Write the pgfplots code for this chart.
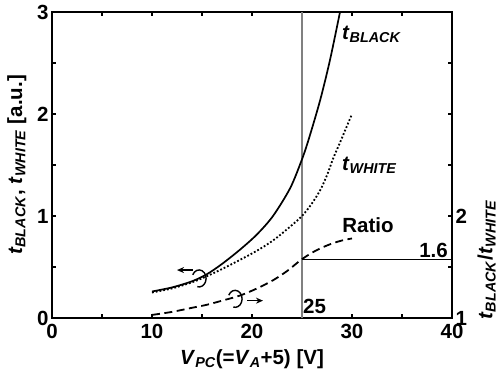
\documentclass[border=0pt]{standalone}
\usepackage{fontspec}
\setmainfont{Liberation Sans}
\usepackage{pgfplots}
\pgfplotsset{compat=1.18}
\usetikzlibrary{arrows.meta}
\newcommand{\tsub}[1]{\textit{t}\textsubscript{\textit{#1}}}
\newcommand{\bigf}{\bfseries\fontsize{20.5}{22}\selectfont}
\begin{document}
\bfseries
\begin{tikzpicture}[x=1pt,y=1pt]
\useasboundingbox (-52,-55) rectangle (446,318);
\begin{axis}[
  at={(0,0)}, anchor=south west,
  scale only axis, width=400pt, height=306pt,
  xmin=0, xmax=40, ymin=0, ymax=3,
  xtick={0,10,20,30,40}, minor xtick={5,15,25,35},
  ytick={0,1,2,3}, minor ytick={0.5,1.5,2.5},
  tick align=inside, tick pos=both,
  major tick length=4pt, minor tick length=4pt,
  every tick/.style={black, line width=1.2pt},
  axis line style={line width=1.8pt},
  /pgf/number format/assume math mode=true,
  tick label style={font=\bigf},
  label style={font=\bigf},
  xlabel={\textit{V}\textsubscript{\textit{PC}}(=\textit{V}\textsubscript{\textit{A}}+5) [V]},
  ylabel={\tsub{BLACK}, \tsub{WHITE} [a.u.]},
  xlabel style={at={(rel axis cs:0.5,0)}, anchor=north, yshift=-28pt},
  ylabel style={at={(rel axis cs:0,0.5)}, anchor=south, xshift=0pt, yshift=22pt},
  xticklabel style={anchor=north, yshift=-3pt},
  yticklabel style={anchor=east, xshift=0pt},
  clip=false,
]
\draw[gray, line width=1.3pt] (axis cs:25,0) -- (axis cs:25,3);
\addplot[black, line width=1.7pt, smooth] coordinates {
(10,0.26) (12,0.30) (14,0.36) (15.5,0.43) (17,0.53) (18.8,0.67) (20.5,0.82) (22.1,1.00) (23.8,1.27) (24.9,1.53) (25.6,1.73) (26.8,2.13) (27.8,2.53) (28.8,3.0)};
\addplot[black, line width=1.8pt, dotted, smooth] coordinates {
(10,0.25) (12,0.29) (14,0.35) (15.5,0.41) (17,0.48) (18.8,0.57) (20.5,0.66) (22.1,0.76) (23.5,0.87) (24.9,0.99) (25.9,1.11) (26.8,1.25) (27.5,1.40) (28.1,1.56) (28.8,1.72) (29.4,1.86) (30,2.0)};
\draw[line width=1.4pt] (axis cs:14.8,0.39) ++(155:8pt) arc[start angle=155, end angle=-105, x radius=7pt, y radius=8.5pt];
\draw[line width=1.6pt, -{Stealth[length=7pt,width=6pt]}] (axis cs:14.1,0.47) -- (axis cs:12.5,0.47);
\draw[line width=1.4pt] (axis cs:18.4,0.19) ++(155:8pt) arc[start angle=155, end angle=-105, x radius=7pt, y radius=8.5pt];
\draw[line width=1.6pt, -{Stealth[length=7pt,width=6pt]}] (axis cs:19.5,0.17) -- (axis cs:21.1,0.17);
\node[anchor=west, inner sep=1pt, font=\bigf] at (axis cs:28.9,2.78) {\tsub{BLACK}};
\node[anchor=west, inner sep=1pt, font=\bigf] at (axis cs:28.9,1.50) {\tsub{WHITE}};
\node[font=\bigf] at (axis cs:31.6,0.91) {Ratio};
\node[anchor=south west, inner sep=1pt, font=\bigf] at (axis cs:25,0.03) {25};
\end{axis}
\begin{axis}[
  at={(0,0)}, anchor=south west,
  scale only axis, width=400pt, height=306pt,
  xmin=0, xmax=40, ymin=1, ymax=4,
  axis x line=none, axis y line*=right,
  ytick={1,2}, major tick length=0pt,
  axis line style={line width=1.8pt},
  /pgf/number format/assume math mode=true,
  tick label style={font=\bigf},
  label style={font=\bigf},
  ylabel={\tsub{BLACK}/\tsub{WHITE}},
  ylabel style={at={(rel axis cs:1,0.19)}, rotate=0, anchor=north, yshift=-22pt},
  yticklabel style={anchor=west, xshift=0pt},
  clip=false,
]
\addplot[black, line width=1.8pt, dash pattern=on 8pt off 4.5pt, smooth] coordinates {
(10,1.03) (12,1.06) (14,1.10) (15.5,1.13) (17,1.17) (18.8,1.22) (20.5,1.29) (22.1,1.37) (23.5,1.46) (24.9,1.57) (26,1.64) (27,1.69) (28,1.73) (29,1.76) (30,1.78)};
\draw[black, line width=1pt] (axis cs:25,1.57) -- (axis cs:40,1.57);
\node[anchor=south east, inner sep=2pt, font=\bigf] at (axis cs:39.8,1.57) {1.6};
\end{axis}
\end{tikzpicture}
\end{document}
